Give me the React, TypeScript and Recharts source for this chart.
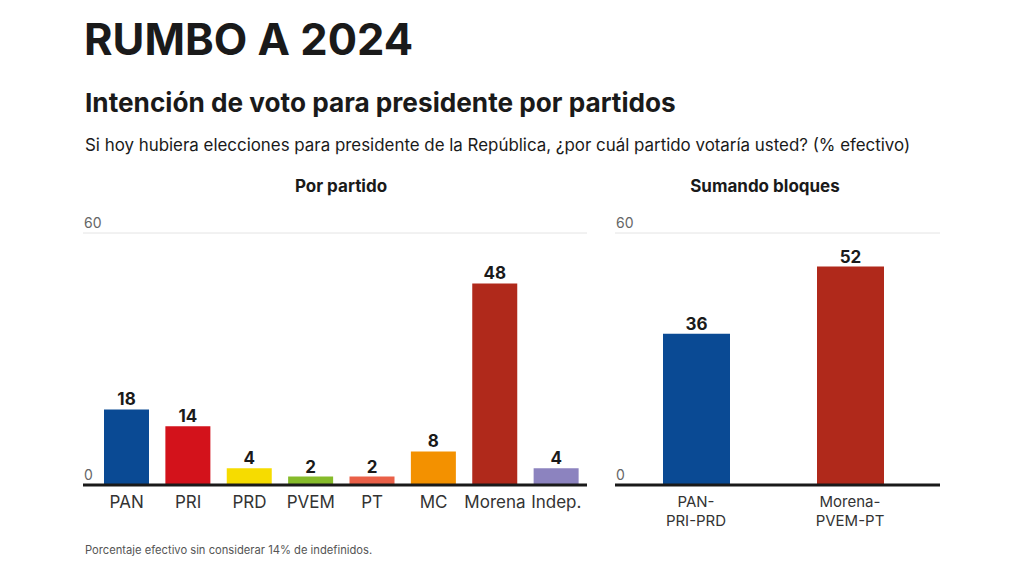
import { BarChart, Bar, XAxis, YAxis, CartesianGrid, Cell, LabelList, ReferenceLine } from "recharts";

const FONT = "Inter, 'Noto Sans', sans-serif";

// Por partido
const parties = ["PAN", "PRI", "PRD", "PVEM", "PT", "MC", "Morena", "Indep."];
const partyVotes = [18, 14, 4, 2, 2, 8, 48, 4];
const partyColors = ["#0a4a94", "#d3121b", "#f6dc00", "#86bb2a", "#ea6048", "#f39100", "#b0291b", "#8c83bf"];
const partyTicks = [0, 12, 24, 36, 48, 60];

// Sumando bloques
const blocs = ["PAN-PRI-PRD", "Morena-PVEM-PT"];
const blocVotes = [36, 52];
const blocColors = ["#0a4a94", "#b0291b"];
const blocTicks = [0, 10, 20, 30, 40, 50, 60];

// only the ends of the scale carry a number
const labelledTicks = [0, 60];

const partyData = parties.map((name, i) => ({ name, value: partyVotes[i] }));
const blocData = blocs.map((name, i) => ({ name, value: blocVotes[i] }));

function ScaleLabel(props: any) {
  const { viewBox, value } = props;
  return (
    <text x={viewBox.x + 1} y={viewBox.y - 5} fontSize={14} fill="#666" fontFamily={FONT}>
      {value}
    </text>
  );
}

function PartyTick(props: any) {
  const { x, y, payload } = props;
  return (
    <text x={x} y={y + 15} textAnchor="middle" fontSize={17} fill="#333" fontFamily={FONT}>
      {payload.value}
    </text>
  );
}

// bloc names wrap after the first hyphen
function BlocTick(props: any) {
  const { x, y, payload } = props;
  const s = String(payload.value);
  const cut = s.indexOf("-") + 1;
  return (
    <g>
      <text x={x} y={y + 14} textAnchor="middle" fontSize={15} fill="#333" fontFamily={FONT}>
        {s.slice(0, cut)}
      </text>
      <text x={x} y={y + 33} textAnchor="middle" fontSize={15} fill="#333" fontFamily={FONT}>
        {s.slice(cut)}
      </text>
    </g>
  );
}

const abs = (left: number, top: number, extra: any = {}) => ({
  position: "absolute" as const,
  left,
  top,
  whiteSpace: "nowrap" as const,
  lineHeight: 1,
  fontFamily: FONT,
  color: "#1a1a1a",
  ...extra,
});

export default function App() {
  return (
    <div style={{ position: "absolute", left: 0, top: 0, width: 1024, height: 577, background: "#fff", overflow: "hidden" }}>
      <div style={abs(84, 18, { fontSize: 43.5, fontWeight: 700 })}>RUMBO A 2024</div>
      <div style={abs(85, 90, { fontSize: 26.2, fontWeight: 700 })}>Intención de voto para presidente por partidos</div>
      <div style={abs(85, 137, { fontSize: 16.9 })}>
        Si hoy hubiera elecciones para presidente de la República, ¿por cuál partido votaría usted? (% efectivo)
      </div>
      <div style={abs(241, 178, { fontSize: 17, fontWeight: 700, width: 200, textAlign: "center" })}>Por partido</div>
      <div style={abs(665, 178, { fontSize: 17, fontWeight: 700, width: 200, textAlign: "center" })}>Sumando bloques</div>
      <div style={abs(85, 545, { fontSize: 11.2, color: "#555" })}>
        Porcentaje efectivo sin considerar 14% de indefinidos.
      </div>

      <div style={{ position: "absolute", left: 83, top: 213 }}>
        <BarChart width={520} height={310} data={partyData} margin={{ top: 20, right: 16, left: 0, bottom: 0 }}>
          <CartesianGrid vertical={false} stroke="#e4e4e4" />
          <YAxis width={0} domain={[0, 60]} ticks={partyTicks} interval={0} axisLine={false} tickLine={false} tick={false} />
          <XAxis
            dataKey="name"
            height={38}
            interval={0}
            padding={{ left: 13, right: 0 }}
            axisLine={{ stroke: "#1a1a1a", strokeWidth: 3 }}
            tickLine={false}
            tick={PartyTick}
          />
          {labelledTicks.map((t) => (
            <ReferenceLine key={t} y={t} stroke="none" label={<ScaleLabel value={t} />} />
          ))}
          <Bar dataKey="value" barSize={45} isAnimationActive={false}>
            {partyData.map((d, i) => (
              <Cell key={d.name} fill={partyColors[i]} />
            ))}
            <LabelList dataKey="value" position="top" offset={4} fill="#1a1a1a" fontSize={17} fontWeight={700} fontFamily={FONT} />
          </Bar>
        </BarChart>
      </div>

      <div style={{ position: "absolute", left: 615, top: 213 }}>
        <BarChart width={340} height={330} data={blocData} margin={{ top: 20, right: 15, left: 0, bottom: 0 }}>
          <CartesianGrid vertical={false} stroke="#e4e4e4" />
          <YAxis width={0} domain={[0, 60]} ticks={blocTicks} interval={0} axisLine={false} tickLine={false} tick={false} />
          <XAxis
            dataKey="name"
            height={58}
            interval={0}
            padding={{ left: 4, right: 13 }}
            axisLine={{ stroke: "#1a1a1a", strokeWidth: 3 }}
            tickLine={false}
            tick={BlocTick}
          />
          {labelledTicks.map((t) => (
            <ReferenceLine key={t} y={t} stroke="none" label={<ScaleLabel value={t} />} />
          ))}
          <Bar dataKey="value" barSize={67} isAnimationActive={false}>
            {blocData.map((d, i) => (
              <Cell key={d.name} fill={blocColors[i]} />
            ))}
            <LabelList dataKey="value" position="top" offset={4} fill="#1a1a1a" fontSize={17} fontWeight={700} fontFamily={FONT} />
          </Bar>
        </BarChart>
      </div>
    </div>
  );
}
